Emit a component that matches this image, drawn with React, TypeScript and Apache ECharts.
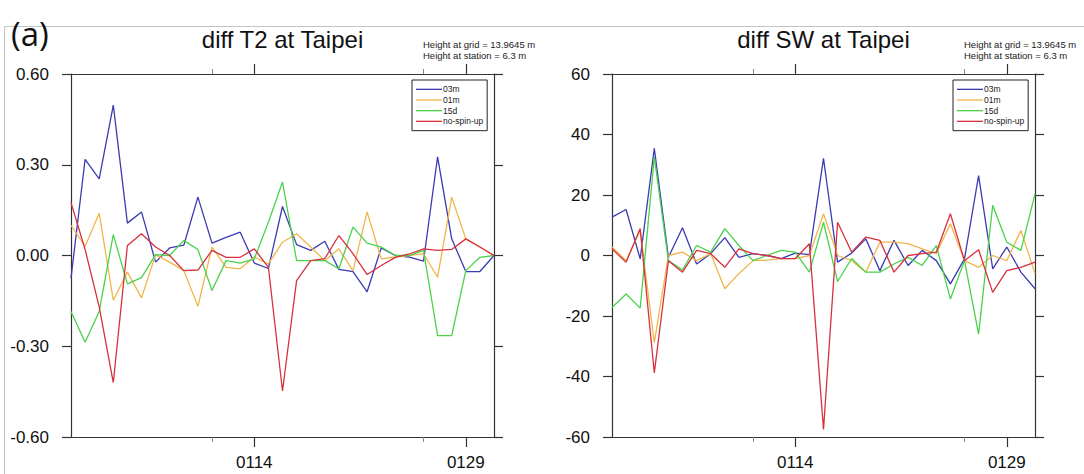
import React, { useEffect, useRef } from "react";
import * as echarts from "echarts";

const days = [
  "0101", "0102", "0103", "0104", "0105", "0106", "0107", "0108", "0109", "0110",
  "0111", "0112", "0113", "0114", "0115", "0116", "0117", "0118", "0119", "0120",
  "0121", "0122", "0123", "0124", "0125", "0126", "0127", "0128", "0129", "0130", "0131",
];
const majorTickDays = ["0114", "0129"];
const minorTickDays = ["0111", "0126"];

const seriesNames = ["03m", "01m", "15d", "no-spin-up"];
const seriesColors = ["#3b3bb4", "#f0b64c", "#4ad24a", "#d8303f"];

// diff T2 at Taipei
const t2_03m = [-0.075, 0.318, 0.253, 0.497, 0.107, 0.144, -0.022, 0.025, 0.034, 0.193, 0.041, 0.06, 0.077, -0.025, -0.043, 0.162, 0.036, 0.017, 0.047, -0.046, -0.053, -0.12, 0.025, 0.0, -0.005, -0.019, 0.326, 0.055, -0.053, -0.053, 0.0];
const t2_01m = [0.1, 0.03, 0.14, -0.148, -0.055, -0.14, 0.003, -0.022, -0.05, -0.168, 0.028, -0.039, -0.044, -0.005, -0.028, 0.044, 0.072, 0.028, -0.017, 0.022, -0.05, 0.144, -0.011, -0.005, 0.0, 0.006, -0.072, 0.193, 0.055, 0.028, 0.0];
const t2_15d = [-0.185, -0.287, -0.185, 0.069, -0.094, -0.073, 0.003, 0.0, 0.05, 0.02, -0.116, -0.017, -0.025, -0.011, 0.11, 0.243, -0.017, -0.017, -0.017, -0.044, 0.094, 0.041, 0.028, 0.0, 0.0, 0.017, -0.265, -0.265, -0.05, -0.006, 0.0];
const t2_nospin = [0.175, 0.02, -0.17, -0.42, 0.033, 0.072, 0.028, 0.0, -0.05, -0.048, 0.017, -0.006, -0.006, 0.022, -0.039, -0.448, -0.083, -0.017, -0.01, 0.066, 0.006, -0.063, -0.033, -0.006, 0.005, 0.022, 0.017, 0.02, 0.055, 0.028, 0.0];

// diff SW at Taipei
const sw_03m = [12.7, 15.2, -1.1, 35.4, -0.6, 9.2, -2.8, 0.6, 5.9, -0.6, 0.6, 0.0, -1.0, 0.8, 0.3, 32.1, -2.2, 0.8, 5.5, -5.0, 5.0, -3.3, 1.7, -1.7, -9.4, -1.1, 26.4, -4.4, 2.8, -5.5, -11.0];
const sw_01m = [2.8, -1.7, 8.3, -28.8, 0.0, 1.1, -1.7, 0.6, -11.0, -6.0, -1.7, -1.5, -1.0, -1.0, 0.0, 13.8, 0.0, -1.7, -5.5, 4.4, 4.4, 3.9, 2.2, 0.6, 10.5, -1.7, -3.9, 0.0, -1.7, 8.3, -6.0];
const sw_15d = [-17.2, -12.7, -17.4, 32.6, -1.7, -4.8, 3.3, 1.1, 8.9, 3.3, -1.7, 0.0, 1.7, 1.1, -5.5, 11.0, -8.6, -1.0, -5.5, -5.5, -2.8, -0.6, -3.3, 3.3, -14.4, -1.7, -26.0, 16.6, 4.4, 1.7, 20.3];
const sw_nospin = [2.2, -2.2, 8.9, -38.8, -1.7, -5.5, 1.7, 0.6, -3.9, 2.2, 0.6, 0.0, -1.0, -1.0, 3.9, -57.5, 11.0, 1.1, 6.1, 5.0, -5.5, 0.0, 0.6, 1.1, 13.8, -1.7, 1.9, -12.2, -5.0, -3.9, -2.2];

const t2Series = [t2_03m, t2_01m, t2_15d, t2_nospin];
const swSeries = [sw_03m, sw_01m, sw_15d, sw_nospin];

const t2Axis = { min: -0.6, max: 0.6, interval: 0.3, decimals: 2 };
const swAxis = { min: -60, max: 60, interval: 20, decimals: 0 };

const panelTitles = ["diff T2 at Taipei", "diff SW at Taipei"];
const heightNotes = ["Height at grid = 13.9645 m", "Height at station = 6.3 m"];
const panelLetter = "(a)";

const FONT = "'Liberation Sans', Arial, Helvetica, sans-serif";
const AXIS_COLOR = "#333";

const grids = [
  { left: 71, top: 74, width: 423, height: 363 },
  { left: 612, top: 74, width: 423, height: 363 },
];

function buildXAxes(g: number) {
  const isMajor = (_i: number, v: string) => majorTickDays.includes(v);
  const isMinor = (_i: number, v: string) => minorTickDays.includes(v);
  const base = {
    type: "category" as const,
    gridIndex: g,
    data: days,
    boundaryGap: false,
    splitLine: { show: false },
  };
  return [
    {
      ...base,
      position: "bottom",
      axisLine: { show: true, onZero: false, lineStyle: { color: AXIS_COLOR, width: 1.2 } },
      axisTick: { show: true, interval: isMajor, length: 10, inside: false, lineStyle: { color: AXIS_COLOR, width: 1.2 } },
      axisLabel: { show: true, interval: isMajor, margin: 17, fontSize: 17, color: "#111", fontFamily: FONT },
    },
    {
      ...base,
      position: "bottom",
      axisLine: { show: false, onZero: false },
      axisTick: { show: true, interval: isMinor, length: 5, inside: false, lineStyle: { color: "#888", width: 1 } },
      axisLabel: { show: false },
    },
    {
      ...base,
      position: "top",
      axisLine: { show: true, onZero: false, lineStyle: { color: AXIS_COLOR, width: 1.2 } },
      axisTick: { show: true, interval: isMajor, length: 10, inside: false, lineStyle: { color: AXIS_COLOR, width: 1.2 } },
      axisLabel: { show: false },
    },
    {
      ...base,
      position: "top",
      axisLine: { show: false, onZero: false },
      axisTick: { show: true, interval: isMinor, length: 5, inside: false, lineStyle: { color: "#888", width: 1 } },
      axisLabel: { show: false },
    },
  ];
}

function buildYAxes(g: number, ax: { min: number; max: number; interval: number; decimals: number }) {
  const base = {
    type: "value" as const,
    gridIndex: g,
    min: ax.min,
    max: ax.max,
    interval: ax.interval,
    splitLine: { show: false },
    axisLine: { show: true, onZero: false, lineStyle: { color: AXIS_COLOR, width: 1.2 } },
    axisTick: { show: true, length: 9, inside: false, lineStyle: { color: AXIS_COLOR, width: 1.2 } },
  };
  return [
    {
      ...base,
      position: "left",
      axisLabel: {
        show: true,
        margin: 22,
        fontSize: 17,
        color: "#111",
        fontFamily: FONT,
        formatter: (v: number) => (Math.abs(v) < 1e-9 ? 0 : v).toFixed(ax.decimals),
      },
    },
    { ...base, position: "right", axisLabel: { show: false } },
  ];
}

export default function App() {
  const ref = useRef<HTMLDivElement>(null);

  useEffect(() => {
    if (!ref.current) return;
    const chart = echarts.init(ref.current, undefined, { renderer: "svg" });

    const series: any[] = [];
    [t2Series, swSeries].forEach((group, g) => {
      group.forEach((data, k) => {
        series.push({
          type: "line",
          name: seriesNames[k],
          xAxisIndex: g * 4,
          yAxisIndex: g * 2,
          data,
          showSymbol: false,
          symbol: "none",
          color: seriesColors[k],
          lineStyle: { width: 1.3, color: seriesColors[k] },
          z: 3 + k,
        });
      });
    });

    const legendLefts = [412, 953];
    const legends = legendLefts.map((left) => ({
      orient: "vertical",
      left,
      top: 80,
      padding: [4, 4, 4, 4],
      itemGap: 0,
      itemWidth: 26,
      itemHeight: 1.3,
      icon: "rect",
      itemStyle: { borderWidth: 0 },
      borderColor: "#222",
      borderWidth: 1,
      borderRadius: 0,
      backgroundColor: "#fff",
      selectedMode: false,
      textStyle: { fontSize: 8.5, lineHeight: 10.67, color: "#222", fontFamily: FONT, padding: [0, 0, 0, -4] },
      data: seriesNames,
      z: 10,
    }));

    const titleCenters = [282.5, 823.5];
    const noteLefts = [423, 964];

    const graphic: any[] = [
      { type: "line", shape: { x1: 4, y1: 26.5, x2: 1084, y2: 26.5 }, style: { stroke: "#c4c4c4", lineWidth: 1 }, silent: true },
      { type: "line", shape: { x1: 4.5, y1: 26, x2: 4.5, y2: 474 }, style: { stroke: "#c4c4c4", lineWidth: 1 }, silent: true },
      {
        type: "text",
        x: 11,
        y: 33,
        style: { text: panelLetter, fontSize: 33, fontFamily: "'Open Sans', 'Liberation Sans', sans-serif", fill: "#111", verticalAlign: "middle", align: "left" },
      },
    ];
    titleCenters.forEach((cx, i) => {
      graphic.push({
        type: "text",
        x: cx,
        y: 39.5,
        style: { text: panelTitles[i], fontSize: 24, fontFamily: FONT, fill: "#111", align: "center", verticalAlign: "middle" },
      });
      graphic.push({
        type: "text",
        x: noteLefts[i],
        y: 44.5,
        style: { text: heightNotes[0], fontSize: 9.5, fontFamily: FONT, fill: "#222", align: "left", verticalAlign: "middle" },
      });
      graphic.push({
        type: "text",
        x: noteLefts[i],
        y: 55.5,
        style: { text: heightNotes[1], fontSize: 9.5, fontFamily: FONT, fill: "#222", align: "left", verticalAlign: "middle" },
      });
    });

    chart.setOption({
      animation: false,
      backgroundColor: "#fff",
      grid: grids,
      xAxis: [...buildXAxes(0), ...buildXAxes(1)],
      yAxis: [...buildYAxes(0, t2Axis), ...buildYAxes(1, swAxis)],
      legend: legends,
      series,
      graphic,
    });

    return () => chart.dispose();
  }, []);

  return (
    <div
      ref={ref}
      style={{ position: "fixed", left: 0, top: 0, width: 1084, height: 474, background: "#fff" }}
    />
  );
}
